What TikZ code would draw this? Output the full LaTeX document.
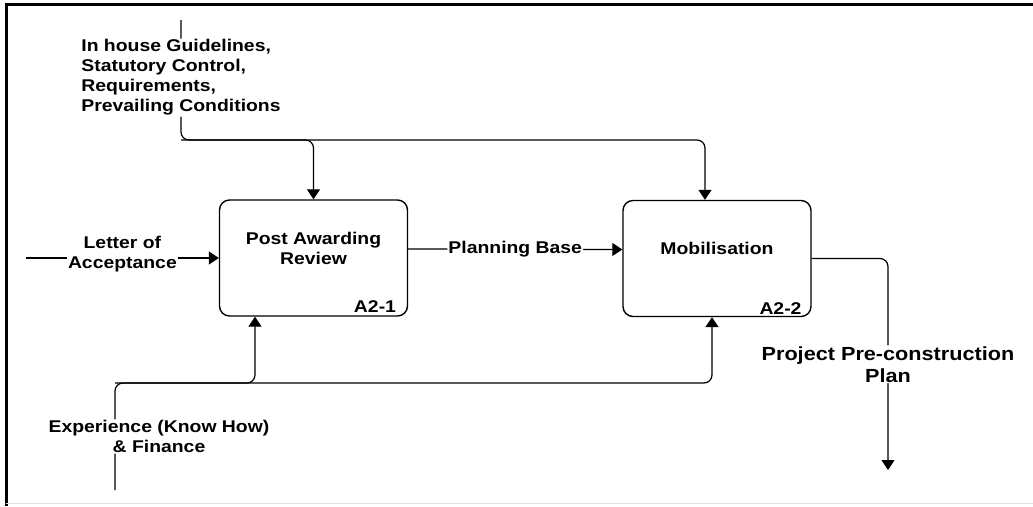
\documentclass[tikz,border=0pt]{standalone}
\usepackage{fontspec}
\setmainfont{Liberation Sans}[FakeStretch=1.14]
\usetikzlibrary{arrows.meta, positioning, calc}

\begin{document}
\begin{tikzpicture}[x=1pt, y=-1pt, >={Triangle[length=10pt, width=13pt]},
    font=\fontsize{17}{20}\selectfont\bfseries,
    activity/.style={rectangle, draw=black, line width=1.4pt, rounded corners=10pt,
      minimum width=188pt, minimum height=116pt, inner sep=0pt},
    acttitle/.style={align=center, inner sep=0pt},
    actnum/.style={inner sep=0pt},
    flow/.style={line width=1.2pt, rounded corners=8pt},
    lbl/.style={fill=white, inner sep=1pt, align=center},
    outlbl/.style={fill=white, inner sep=1pt, align=center,
      font=\fontsize{19}{22}\selectfont\bfseries}]

  \useasboundingbox (0,0) rectangle (1033,506);

  % frame
  \draw[line width=3pt] (6,506) -- (6,4.5) -- (1033,4.5);
  \draw[gray!25, line width=1pt] (6,503.5) -- (1033,503.5);

  % activity A2-1
  \node[activity] (par) at (313.5,258) {};
  \node[acttitle] (parT) at ($(par.center)+(0,-10)$) {Post Awarding\\Review};
  \node[actnum, above left=4pt and 12pt of par.south east, anchor=south east] (parN) {A2-1};

  % activity A2-2
  \node[activity] (mob) at (717,258.5) {};
  \node[acttitle] (mobT) at ($(mob.center)+(0,-10)$) {Mobilisation};
  \node[actnum, above left=3pt and 10pt of mob.south east, anchor=south east] (mobN) {A2-2};

  % end points and branch points
  \coordinate (ctlTop) at (181,20);
  \coordinate (ctlBus) at (181,140);
  \coordinate (mobCtl) at ($(mob.north)+(-12,0)$);
  \coordinate (locIn) at (26,258);
  \coordinate (parOut) at ($(par.east)+(0,-9)$);
  \coordinate (mobIn) at ($(mob.west)+(0,-9)$);
  \coordinate (mechBot) at (115,490);
  \coordinate (mechBus) at (115,383);
  \coordinate (parMech) at ($(par.south)+(-58.5,0)$);
  \coordinate (mobMech) at ($(mob.south)+(-5,0)$);
  \coordinate (outEnd) at (888,470);

  % controls
  \draw[flow, ->] (ctlTop) -- node[lbl, align=left, pos=0.48] (ctl)
    {In house Guidelines,\\Statutory Control,\\Requirements,\\Prevailing Conditions}
    (ctlBus) -| (par.north);
  \draw[flow, ->] (ctlBus) -| (mobCtl);

  % input and link
  \draw[flow, ->] (locIn) -- node[lbl, yshift=4pt] (loc) {Letter of\\Acceptance} (par.west);
  \draw[flow, ->] (parOut) -- node[lbl] (base) {Planning Base} (mobIn);

  % mechanisms
  \draw[flow, ->] (mechBot) -- node[lbl, xshift=44pt] (mech)
    {Experience (Know How)\\\& Finance} (mechBus) -| (parMech);
  \draw[flow, ->] (mechBus) -| (mobMech);

  % output
  \draw[flow, ->] (mob.east) -| node[outlbl, pos=0.75] (out)
    {Project Pre-construction\\Plan} (outEnd);

\end{tikzpicture}
\end{document}
